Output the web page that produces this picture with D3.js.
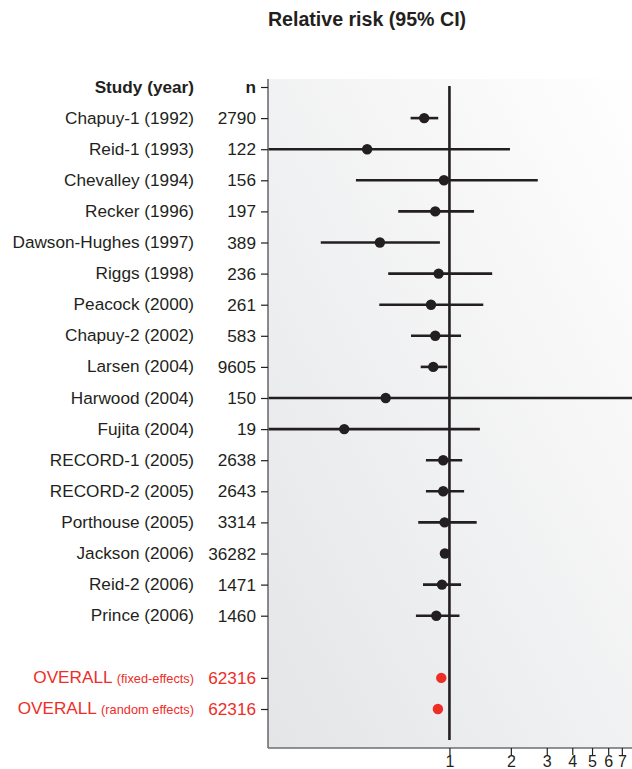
<!DOCTYPE html>
<html>
<head>
<meta charset="utf-8">
<script src="https://cdn.jsdelivr.net/npm/d3@7"></script>
<style>
  html, body { margin: 0; padding: 0; background: #fff; }
  svg { display: block; font-family: "Liberation Sans", Arial, Helvetica, sans-serif; }
</style>
</head>
<body>
<svg id="chart" width="632" height="769"></svg>
<script>
// ---- data ----
const studies = ["Chapuy-1 (1992)", "Reid-1 (1993)", "Chevalley (1994)", "Recker (1996)",
  "Dawson-Hughes (1997)", "Riggs (1998)", "Peacock (2000)", "Chapuy-2 (2002)", "Larsen (2004)",
  "Harwood (2004)", "Fujita (2004)", "RECORD-1 (2005)", "RECORD-2 (2005)", "Porthouse (2005)",
  "Jackson (2006)", "Reid-2 (2006)", "Prince (2006)"];
const nValues = [2790, 122, 156, 197, 389, 236, 261, 583, 9605, 150, 19, 2638, 2643, 3314, 36282, 1471, 1460];
const rr   = [0.752, 0.395, 0.94, 0.852, 0.456, 0.885, 0.812, 0.852, 0.833, 0.487, 0.305, 0.932, 0.932, 0.947, 0.95, 0.919, 0.862];
const ciLo = [0.645, 0.08, 0.348, 0.561, 0.234, 0.501, 0.453, 0.648, 0.723, 0.08, 0.08, 0.767, 0.767, 0.703, 0.93, 0.742, 0.685];
const ciHi = [0.881, 1.98, 2.71, 1.32, 0.898, 1.62, 1.465, 1.14, 0.975, 12, 1.41, 1.155, 1.18, 1.36, 0.97, 1.14, 1.12];
const overallLabels = ["OVERALL", "OVERALL"];
const overallSub = ["(fixed-effects)", "(random effects)"];
const overallN = [62316, 62316];
const overallRR = [0.912, 0.878];
const xTicks = [1, 2, 3, 4, 5, 6, 7];
const title = "Relative risk (95% CI)";
const headerStudy = "Study (year)";
const headerN = "n";

// ---- layout ----
const svg = d3.select("#chart");
const panel = { left: 268, right: 640, top: 79, bottom: 748 };
const ink = "#231f20";
const red = "#ee2d27";
const fs = 17.2;

const rows = ["header", ...studies, "blank", "fixed", "random"];
const y = d3.scalePoint().domain(rows).range([87, 709]);
const x = d3.scaleLog().domain([0.129, 7.85]).range([268, 632]);

// gradient background
const defs = svg.append("defs");
const grad = defs.append("linearGradient").attr("id", "bg")
  .attr("x1", 0).attr("y1", 1).attr("x2", 1).attr("y2", 0);
grad.append("stop").attr("offset", "0%").attr("stop-color", "#e4e5e7");
grad.append("stop").attr("offset", "100%").attr("stop-color", "#ffffff");
defs.append("clipPath").attr("id", "clip").append("rect")
  .attr("x", panel.left).attr("y", panel.top)
  .attr("width", panel.right - panel.left).attr("height", panel.bottom - panel.top);

svg.append("rect")
  .attr("x", panel.left).attr("y", panel.top)
  .attr("width", panel.right - panel.left).attr("height", panel.bottom - panel.top)
  .attr("fill", "url(#bg)");

// title
svg.append("text").attr("x", 367).attr("y", 26).attr("text-anchor", "middle")
  .attr("font-size", 19.6).attr("font-weight", "bold").attr("fill", ink).text(title);

// reference line at 1
svg.append("line").attr("x1", x(1)).attr("x2", x(1)).attr("y1", 86).attr("y2", 740)
  .attr("stroke", ink).attr("stroke-width", 2.6);

// CI lines
const g = svg.append("g").attr("clip-path", "url(#clip)");
g.selectAll("line.ci").data(studies).join("line").attr("class", "ci")
  .attr("x1", (d, i) => x(ciLo[i])).attr("x2", (d, i) => x(ciHi[i]))
  .attr("y1", d => y(d)).attr("y2", d => y(d))
  .attr("stroke", ink).attr("stroke-width", 2.6);
g.selectAll("circle.pt").data(studies).join("circle").attr("class", "pt")
  .attr("cx", (d, i) => x(rr[i])).attr("cy", d => y(d)).attr("r", 5.2).attr("fill", ink);
g.selectAll("circle.ov").data(["fixed", "random"]).join("circle").attr("class", "ov")
  .attr("cx", (d, i) => x(overallRR[i])).attr("cy", d => y(d)).attr("r", 5.2).attr("fill", red);

// left axis (n column)
const nLabel = {};
nLabel.header = headerN;
studies.forEach((s, i) => nLabel[s] = String(nValues[i]));
nLabel.fixed = String(overallN[0]);
nLabel.random = String(overallN[1]);
const yAxis = d3.axisLeft(y).tickValues(rows.filter(r => r !== "blank"))
  .tickSize(7).tickPadding(5).tickFormat(d => nLabel[d]);
const ya = svg.append("g").attr("transform", `translate(${panel.left},0)`).call(yAxis);
ya.select(".domain").attr("d", `M0,${panel.top}V${panel.bottom}`).attr("stroke", "#6d6e70").attr("stroke-width", 1.6);
ya.selectAll(".tick line").attr("stroke", ink).attr("stroke-width", 1.2);
ya.selectAll(".tick text").attr("font-size", fs).attr("font-family", null)
  .attr("fill", d => (d === "fixed" || d === "random") ? red : ink)
  .attr("font-weight", d => d === "header" ? "bold" : null);

// study labels
const lab = svg.append("g");
lab.append("text").attr("x", 194).attr("y", y("header")).attr("dy", "0.32em")
  .attr("text-anchor", "end").attr("font-size", fs).attr("font-weight", "bold")
  .attr("fill", ink).text(headerStudy);
lab.selectAll("text.st").data(studies).join("text").attr("class", "st")
  .attr("x", 194).attr("y", d => y(d)).attr("dy", "0.32em")
  .attr("text-anchor", "end").attr("font-size", fs).attr("fill", ink).text(d => d);
const ov = lab.selectAll("text.ov").data(["fixed", "random"]).join("text").attr("class", "ov")
  .attr("x", 194).attr("y", d => y(d)).attr("dy", "0.32em")
  .attr("text-anchor", "end").attr("fill", red);
ov.append("tspan").attr("font-size", fs).text((d, i) => overallLabels[i] + " ");
ov.append("tspan").attr("font-size", 12.8).text((d, i) => overallSub[i]);

// bottom axis
const xAxis = d3.axisBottom(x).tickValues(xTicks).tickSize(7).tickPadding(1)
  .tickFormat(d3.format("d"));
const xa = svg.append("g").attr("transform", `translate(0,${panel.bottom})`).call(xAxis);
xa.select(".domain").attr("d", `M${panel.left},0H${panel.right}`).attr("stroke", "#6d6e70").attr("stroke-width", 1.6);
xa.selectAll(".tick line").attr("stroke", ink).attr("stroke-width", 1.2);
xa.selectAll(".tick text").attr("font-size", 16).attr("font-family", null).attr("fill", ink);
</script>
</body>
</html>
